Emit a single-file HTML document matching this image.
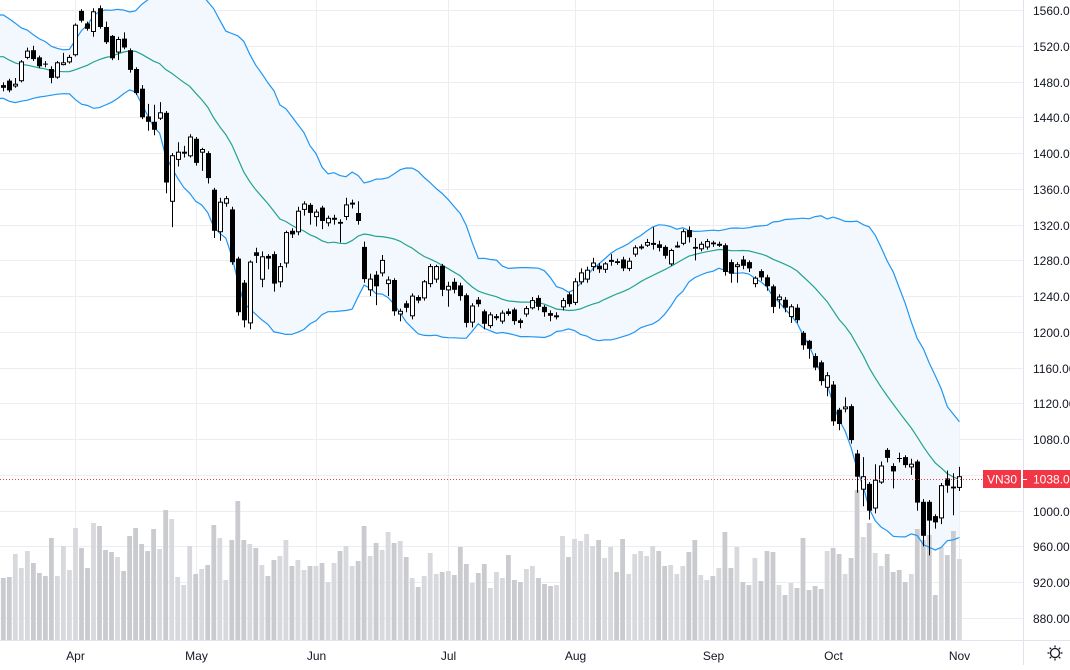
<!DOCTYPE html>
<html><head><meta charset="utf-8"><style>
html,body{margin:0;padding:0;background:#fff;}
body{width:1070px;height:665px;overflow:hidden;font-family:"Liberation Sans",sans-serif;}
svg text{font-family:"Liberation Sans",sans-serif;}
</style></head><body>
<svg id="chart" width="1070" height="665" viewBox="0 0 1070 665" xmlns="http://www.w3.org/2000/svg">
<g id="grid"></g>
<g id="bandfill"></g>
<g id="volume"></g>
<g id="bandlines"></g>
<g id="candles"></g>
<line x1="0" x2="983" y1="479.5" y2="479.5" stroke="#f23645" stroke-width="1" stroke-dasharray="1 2"/>
<rect x="1023" y="0" width="47" height="665" fill="#fff"/>
<line x1="1023.5" x2="1023.5" y1="0" y2="665" stroke="#e0e3eb"/>
<line x1="0" x2="1070" y1="640.5" y2="640.5" stroke="#e0e3eb"/>
<g id="yaxis"></g>
<g id="xaxis"></g>
<g>
<rect x="983" y="470" width="38" height="18" fill="#f23645"/>
<text x="1002" y="483.5" font-size="12" fill="#fff" text-anchor="middle">VN30</text>
</g>
<g>
<rect x="1023" y="470" width="47" height="18" fill="#f23645"/>
<line x1="1023" x2="1027" y1="479.5" y2="479.5" stroke="#fff"/>
<text x="1033" y="483.5" font-size="12" fill="#fff">1038.00</text>
</g>
<g transform="translate(1055,653)" stroke="#131722" stroke-width="1.3" fill="none">
<circle r="4.5"/>
<line x1="0" y1="-7.5" x2="0" y2="-5.5"/><line x1="0" y1="5.5" x2="0" y2="7.5"/>
<line x1="-7.5" y1="0" x2="-5.5" y2="0"/><line x1="5.5" y1="0" x2="7.5" y2="0"/>
<line x1="-5.3" y1="-5.3" x2="-3.9" y2="-3.9"/><line x1="3.9" y1="3.9" x2="5.3" y2="5.3"/>
<line x1="-5.3" y1="5.3" x2="-3.9" y2="3.9"/><line x1="3.9" y1="-3.9" x2="5.3" y2="-5.3"/>
</g>
</svg>
<script>
const opens=[1476,1481,1475,1481,1507,1515,1507,1500,1494,1485,1499,1502,1510,1559,1545,1536,1562,1541,1531,1513,1528,1515,1494,1472,1441,1435,1439,1445,1346,1393,1400,1397,1416,1401,1400,1359,1312,1344,1337,1282,1255,1210,1289,1259,1285,1287,1256,1277,1313,1312,1337,1342,1329,1339,1322,1327,1323,1329,1344,1333,
1295,1247,1264,1266,1254,1258,1220,1232,1218,1239,1238,1254,1259,1274,1247,1256,1252,1241,1211,1236,1223,1207,1217,1212,1223,1225,1213,1220,1227,1238,1228,1221,1218,1228,1242,1233,1256,1259,1273,1274,1270,1280,1279,1281,1271,1287,1294,1297,1299,1298,1295,1276,1296,1299,1314,1295,1293,1295,1300,1298,
1297,1278,1273,1281,1278,1254,1268,1261,1251,1236,1236,1217,1227,1199,1190,1173,1166,1138,1141,1113,1114,1117,1064,1024,1030,1003,1032,1068,1050,1059,1060,1049,1055,1010,1010,994,992,1036,1027,1026];
const closes=[1473,1470,1477,1502,1514,1505,1497,1499,1484,1501,1501,1507,1543,1548,1539,1558,1541,1524,1506,1527,1518,1493,1467,1440,1435,1426,1445,1367,1397,1401,1401,1418,1389,1404,1372,1313,1345,1349,1278,1222,1213,1278,1285,1284,1282,1254,1273,1311,1309,1335,1343,1333,1334,1324,1327,1327,1321,1342,1344,1324,
1259,1259,1251,1280,1258,1223,1223,1227,1240,1235,1256,1273,1273,1247,1251,1247,1240,1210,1229,1231,1209,1219,1217,1221,1220,1212,1210,1226,1235,1228,1222,1218,1218,1235,1231,1256,1266,1269,1277,1270,1276,1280,1277,1271,1279,1294,1295,1300,1299,1294,1285,1291,1296,1312,1306,1293,1298,1301,1298,1298,
1267,1265,1275,1274,1271,1260,1261,1251,1228,1239,1227,1228,1213,1185,1181,1160,1145,1151,1100,1097,1116,1079,1038,1038,1000,1034,1050,1059,1044,1058,1051,1052,1009,972,989,987,1028,1028,1025,1038];
const highs=[1479,1483,1484,1504,1518,1520,1509,1503,1497,1503,1512,1510,1545,1561,1547,1562,1565,1547,1532,1530,1535,1517,1496,1476,1455,1454,1457,1447,1400,1412,1408,1421,1418,1406,1402,1361,1350,1352,1340,1284,1258,1280,1294,1290,1287,1290,1277,1313,1316,1340,1346,1344,1337,1341,1330,1331,1326,1350,1348,1346,
1301,1265,1268,1286,1262,1260,1226,1235,1243,1241,1258,1276,1275,1276,1256,1260,1255,1243,1232,1239,1225,1222,1220,1224,1226,1227,1215,1229,1239,1241,1230,1224,1222,1238,1244,1260,1271,1273,1283,1277,1278,1287,1282,1284,1283,1297,1298,1304,1317,1302,1297,1293,1301,1315,1318,1305,1301,1304,1302,1301,
1299,1281,1278,1285,1280,1262,1270,1264,1253,1242,1239,1231,1231,1201,1191,1176,1168,1155,1145,1115,1127,1119,1068,1060,1032,1052,1055,1070,1053,1065,1062,1058,1057,1013,1012,996,1031,1045,1042,1049];
const lows=[1469,1468,1473,1479,1505,1503,1495,1496,1478,1483,1498,1500,1508,1546,1537,1530,1539,1522,1504,1504,1516,1490,1465,1438,1425,1420,1437,1355,1317,1385,1395,1395,1386,1380,1366,1305,1302,1340,1275,1218,1205,1203,1277,1250,1270,1245,1250,1272,1305,1308,1330,1320,1318,1315,1318,1320,1300,1325,1338,1320,
1255,1240,1230,1262,1240,1218,1212,1222,1214,1232,1235,1250,1255,1240,1228,1243,1235,1205,1205,1228,1203,1204,1213,1209,1218,1208,1204,1217,1225,1224,1217,1212,1214,1224,1228,1230,1253,1255,1268,1266,1266,1274,1275,1268,1268,1284,1292,1295,1292,1290,1282,1274,1294,1297,1300,1280,1290,1292,1295,1295,
1263,1255,1255,1270,1267,1250,1257,1246,1221,1226,1222,1210,1210,1180,1170,1157,1140,1128,1095,1090,1110,1075,1020,1005,990,997,1030,1054,1025,1054,1048,1040,1000,960,950,980,985,1020,995,1022];
const volumes=[62,63,86,72,89,77,67,64,102,64,94,70,112,92,72,117,114,90,88,83,69,104,112,96,89,111,91,130,121,63,55,94,66,71,75,115,102,60,100,139,100,96,92,75,64,80,84,100,74,80,70,74,74,77,58,77,89,94,74,79,
114,84,97,90,108,97,99,83,62,53,64,87,66,68,69,65,93,76,57,67,76,52,68,62,85,60,58,71,74,62,56,54,55,104,83,101,99,106,94,100,82,93,68,101,66,86,89,84,94,89,74,75,66,74,88,100,65,60,64,72,
108,72,93,58,55,82,59,89,88,55,45,57,52,102,50,54,51,89,92,86,66,82,150,103,117,87,74,86,68,70,58,66,111,100,105,45,93,85,109,81];
const priorCloses=[1545,1540,1538,1530,1535,1528,1520,1525,1515,1510,1505,1500,1495,1490,1488,1484,1480,1478,1476];
const priceTicks=[1560,1520,1480,1440,1400,1360,1320,1280,1240,1200,1160,1120,1080,1040,1000,960,920,880];
const monthLabels=["Apr","May","Jun","Jul","Aug","Sep","Oct","Nov"];
const monthStartIndex=[12,32,52,74,95,118,138,159];

const NS="http://www.w3.org/2000/svg";
function yP(p){return 10+(1560-p)*0.89412;}
function xI(i){return 3.3+i*6.013;}
function yV(v){return 640-v;}
function mk(tag,attrs,parent){const e=document.createElementNS(NS,tag);for(const k in attrs)e.setAttribute(k,attrs[k]);parent.appendChild(e);return e;}

const grid=document.getElementById('grid');
const yaxis=document.getElementById('yaxis');
priceTicks.forEach(p=>{
  const y=Math.round(yP(p))+0.5;
  const l=mk('line',{x1:0,x2:1023,y1:y,y2:y,stroke:'#ebedf2','stroke-width':1},grid);
  
  
  const t=mk('text',{x:1033,y:y+4.5,'font-size':12,fill:'#131722'},yaxis);
  t.textContent=p.toFixed(2);
  
  
});
const xaxis=document.getElementById('xaxis');
monthLabels.forEach((m,k)=>{
  const x=Math.round(xI(monthStartIndex[k]))+0.5;
  const l=mk('line',{x1:x,x2:x,y1:0,y2:640,stroke:'#ebedf2','stroke-width':1},grid);
  
  
  const t=mk('text',{x:x,y:660,'font-size':12,fill:'#131722','text-anchor':'middle'},xaxis);
  t.textContent=m;
  
  
});

// Bollinger bands (20, 2)
const all=priorCloses.concat(closes);
const mid=[],up=[],lo=[];
for(let i=0;i<closes.length;i++){
  const w=all.slice(i,i+20);
  const m=w.reduce((a,b)=>a+b,0)/20;
  const sd=Math.sqrt(w.reduce((a,b)=>a+(b-m)*(b-m),0)/20);
  mid.push(m);up.push(m+2*sd);lo.push(m-2*sd);
}
function pts(arr){return arr.map((v,i)=>(i===0?'0,'+yP(v).toFixed(1)+' ':'')+xI(i).toFixed(1)+','+yP(v).toFixed(1)).join(' ');}
const bf=document.getElementById('bandfill');
const fillPts=pts(up)+' '+lo.map((v,i)=>[xI(i).toFixed(1),yP(v).toFixed(1)]).reverse().map(a=>a.join(',')).join(' ')+' 0,'+yP(lo[0]).toFixed(1);
const fp=mk('polygon',{points:fillPts,fill:'#f2f8fe'},bf);



const vg=document.getElementById('volume');
volumes.forEach((v,i)=>{
  const r=mk('rect',{x:(xI(i)-2.4).toFixed(1),y:yV(v),width:4.8,height:v,fill:closes[i]>=opens[i]?'#d8d9dd':'#cacbcf'},vg);
  
  
});

const bl=document.getElementById('bandlines');
const ub=mk('polyline',{points:pts(up),fill:'none',stroke:'#2196f3','stroke-width':1.2},bl);


const lb=mk('polyline',{points:pts(lo),fill:'none',stroke:'#2196f3','stroke-width':1.2},bl);


const mb=mk('polyline',{points:pts(mid),fill:'none',stroke:'#22a38f','stroke-width':1.2},bl);



const cg=document.getElementById('candles');
closes.forEach((c,i)=>{
  const o=opens[i];
  const x=Math.round(xI(i));
  const g=mk('g',{},cg);
  
  
  mk('line',{x1:x+0.5,x2:x+0.5,y1:yP(highs[i]).toFixed(1),y2:yP(lows[i]).toFixed(1),stroke:'#000','stroke-width':1},g);
  const top=yP(Math.max(o,c)),bot=yP(Math.min(o,c));
  const h=Math.max(1,bot-top);
  if(c>=o){
    mk('rect',{x:x-1.5,y:top.toFixed(1),width:4,height:h.toFixed(1),fill:'#fff',stroke:'#000','stroke-width':1},g);
  }else{
    mk('rect',{x:x-2,y:top.toFixed(1),width:5,height:h.toFixed(1),fill:'#000'},g);
  }
});
</script>
</body></html>
